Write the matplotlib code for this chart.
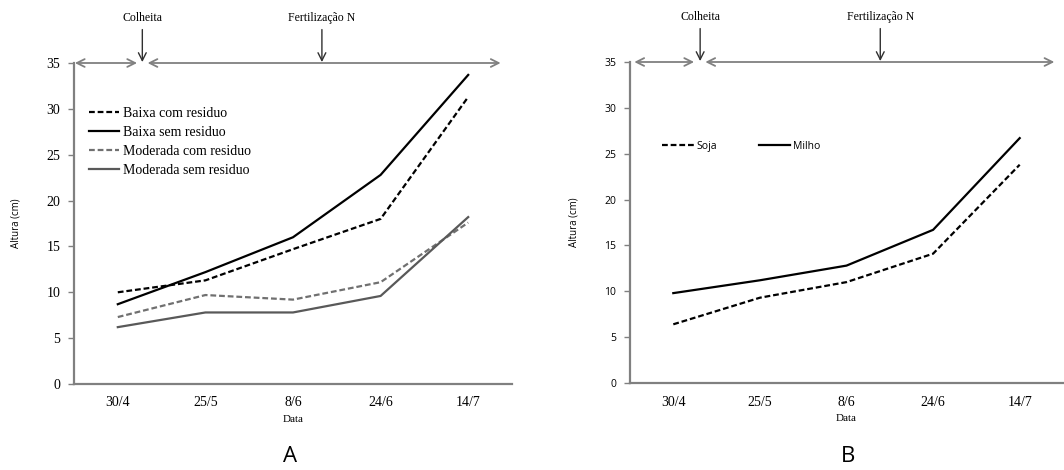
import matplotlib
matplotlib.use("AGG")
import matplotlib.pyplot as plt
import numpy as np

# data
dates = ['30/4', '25/5', '8/6', '24/6', '14/7']

baixaCom = [10.0, 11.3, 14.7, 18.0, 31.3]
baixaSem = [8.7, 12.2, 16.0, 22.8, 33.7]
moderadaCom = [7.3, 9.7, 9.2, 11.1, 17.6]
moderadaSem = [6.2, 7.8, 7.8, 9.6, 18.2]

soja = [6.4, 9.3, 11.0, 14.1, 23.8]
milho = [9.8, 11.2, 12.8, 16.7, 26.7]

serif = 'Liberation Serif'
sans = 'Open Sans'
axGray = '#808080'
dash = (0, (2.6, 1.3))


def style_axes(ax, tickFont, tickSize):
	x = np.arange(len(dates))
	ax.set_xlim(-0.5, 4.5)
	ax.set_ylim(0, 35)
	ax.set_yticks(np.arange(0, 36, 5))
	ax.set_xticks(x)
	ax.set_xticklabels(dates, fontfamily=serif, fontsize=10)
	for lab in ax.get_yticklabels():
		lab.set_fontfamily(tickFont)
		lab.set_fontsize(tickSize)
	ax.tick_params(axis='x', length=0, pad=9)
	ax.tick_params(axis='y', length=4, width=1, color=axGray, pad=6)
	ax.spines['right'].set_visible(False)
	ax.spines['top'].set_visible(False)
	ax.spines['left'].set_color(axGray)
	ax.spines['bottom'].set_color(axGray)
	ax.spines['left'].set_linewidth(1.6)
	ax.spines['bottom'].set_linewidth(1.6)
	ax.set_xlabel('Data', fontfamily=serif, fontsize=8, labelpad=4)
	ax.set_ylabel('Altura (cm)', fontfamily=sans, fontsize=7, labelpad=18)


def annotate_events(ax, leftArrow, rightArrow, colX, fertX):
	aprops = dict(arrowstyle='<->', color=axGray, lw=1.3, mutation_scale=14,
			shrinkA=0, shrinkB=0)
	ax.annotate('', xy=(leftArrow[1], 35), xytext=(leftArrow[0], 35),
			xycoords='data', arrowprops=aprops, annotation_clip=False)
	ax.annotate('', xy=(rightArrow[1], 35), xytext=(rightArrow[0], 35),
			xycoords='data', arrowprops=aprops, annotation_clip=False)
	dprops = dict(arrowstyle='->', color='#303030', lw=1.0, mutation_scale=14,
			shrinkA=2, shrinkB=0)
	ax.annotate('Colheita', xy=(colX, 35.1), xytext=(colX, 39.25),
			ha='center', va='bottom', fontfamily=serif, fontsize=8.5,
			arrowprops=dprops, annotation_clip=False)
	ax.annotate('Fertilização N', xy=(fertX, 35.1), xytext=(fertX, 39.25),
			ha='center', va='bottom', fontfamily=serif, fontsize=8.5,
			arrowprops=dprops, annotation_clip=False)


fig = plt.figure(figsize=(10.64, 4.70), dpi=100)

# panel A
ax1 = fig.add_axes([74/1064., 1-384/470., 438/1064., 321/470.])
x = np.arange(len(dates))
ax1.plot(x, baixaCom, color='black', lw=1.6, linestyle=dash, label='Baixa com residuo')
ax1.plot(x, baixaSem, color='black', lw=1.6, label='Baixa sem residuo')
ax1.plot(x, moderadaCom, color='#707070', lw=1.6, linestyle=dash, label='Moderada com residuo')
ax1.plot(x, moderadaSem, color='#595959', lw=1.6, label='Moderada sem residuo')
style_axes(ax1, serif, 10)
annotate_events(ax1, (-0.49, 0.22), (0.34, 4.37), 0.28, 2.33)
ax1.legend(loc='upper left', bbox_to_anchor=(0.021, 0.88), frameon=False,
		prop={'family': serif, 'size': 10}, handlelength=2.2, handletextpad=0.3,
		labelspacing=0.42, borderaxespad=0)

# panel B
ax2 = fig.add_axes([630/1064., 1-383/470., 433/1064., 321/470.])
ax2.plot(x, soja, color='black', lw=1.6, linestyle=dash, label='Soja')
ax2.plot(x, milho, color='black', lw=1.6, label='Milho')
style_axes(ax2, sans, 7.5)
annotate_events(ax2, (-0.45, 0.24), (0.37, 4.4), 0.31, 2.39)
ax2.legend(loc='upper left', bbox_to_anchor=(0.065, 0.768), frameon=False, ncol=2,
		prop={'family': sans, 'size': 7.5}, handlelength=3.0, handletextpad=0.3,
		columnspacing=4.0, borderaxespad=0)

fig.text(290/1064., 1-456/470., 'A', ha='center', va='center', fontfamily=sans, fontsize=16)
fig.text(848/1064., 1-456/470., 'B', ha='center', va='center', fontfamily=sans, fontsize=16)

fig.savefig('out.png', dpi=100)
plt.close(fig)
